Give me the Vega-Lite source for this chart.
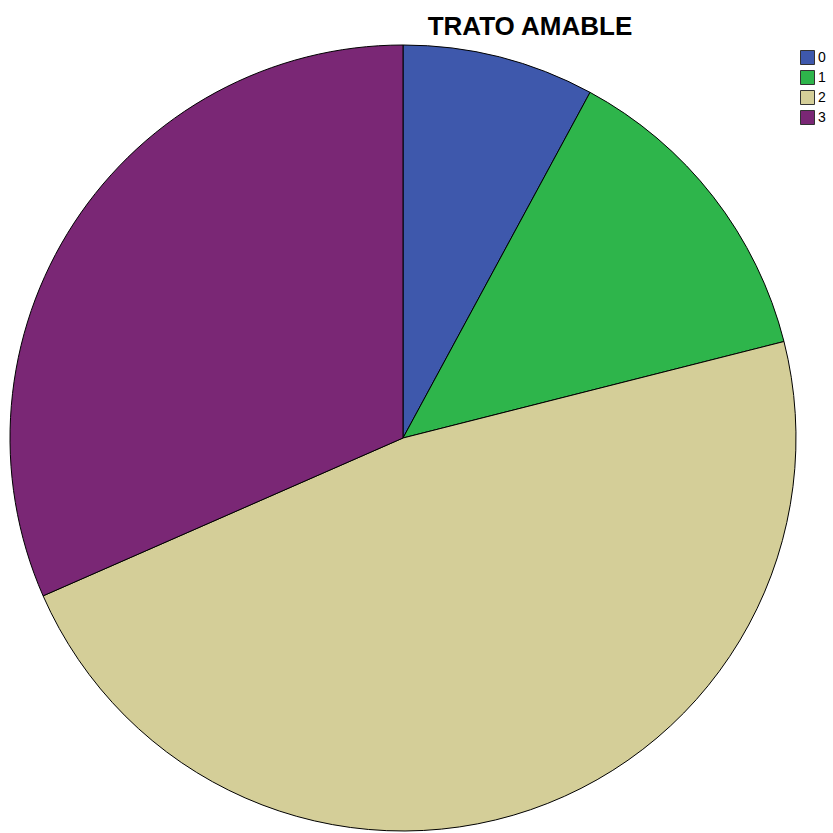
{
  "$schema": "https://vega.github.io/schema/vega-lite/v6.json",
  "autosize": {"type": "none"},
  "padding": {"left": 0, "top": 0, "right": 27, "bottom": 0},
  "width": 806,
  "height": 876,
  "background": "white",
  "title": {
    "text": "TRATO AMABLE",
    "anchor": "middle",
    "dx": 127,
    "dy": 61,
    "baseline": "alphabetic",
    "offset": 0,
    "font": "Liberation Sans",
    "fontSize": 26,
    "fontWeight": "bold",
    "color": "black"
  },
  "data": {
    "values": [
      {"category": "0", "count": 3},
      {"category": "1", "count": 5},
      {"category": "2", "count": 18},
      {"category": "3", "count": 12}
    ]
  },
  "mark": {"type": "arc", "radius": 393, "stroke": "black", "strokeWidth": 1},
  "encoding": {
    "theta": {"field": "count", "type": "quantitative", "stack": true},
    "order": {"field": "category", "type": "ordinal"},
    "color": {
      "field": "category",
      "type": "nominal",
      "scale": {"domain": ["0", "1", "2", "3"], "range": ["#3e58ac", "#2eb54b", "#d4ce98", "#7a2775"]},
      "legend": {
        "title": null,
        "orient": "none",
        "legendX": 800,
        "legendY": 50,
        "padding": 0,
        "symbolType": "square",
        "symbolSize": 196,
        "symbolStrokeColor": "#333333",
        "symbolStrokeWidth": 1,
        "symbolOpacity": 1,
        "labelFont": "Liberation Sans",
        "labelFontSize": 14,
        "labelColor": "black",
        "labelOffset": 3,
        "rowPadding": 1
      }
    }
  },
  "config": {"view": {"stroke": null}}
}
